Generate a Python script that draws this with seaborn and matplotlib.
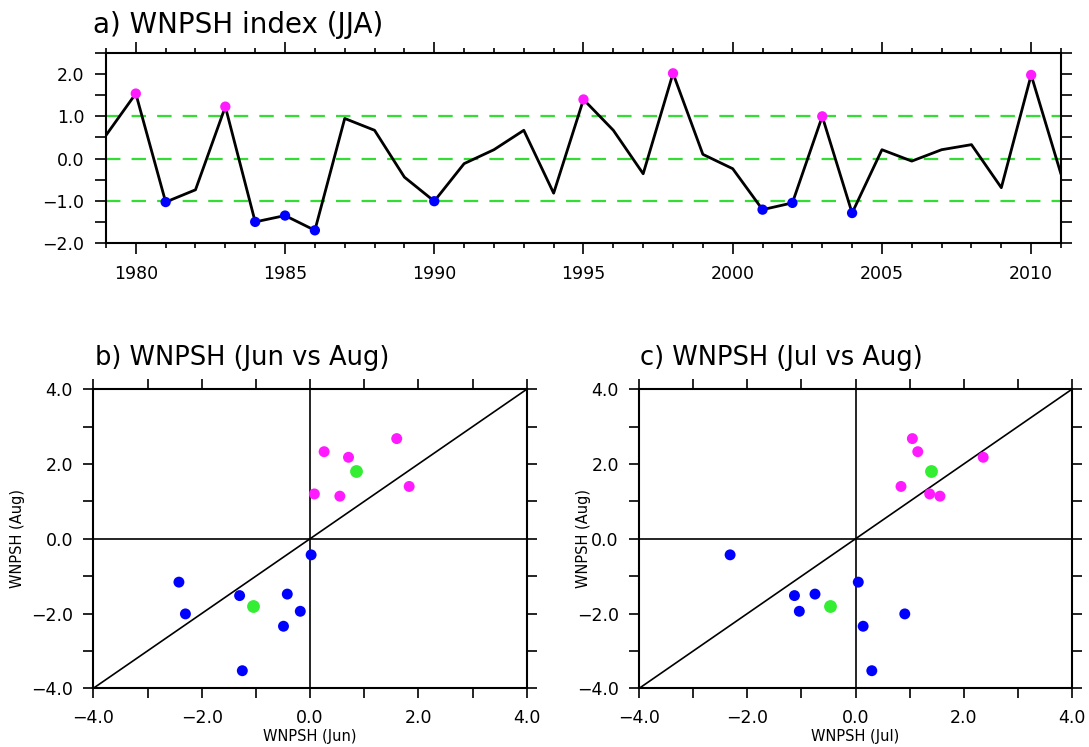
import numpy as np
import pandas as pd
import matplotlib
matplotlib.use("Agg")
import matplotlib.pyplot as plt
import seaborn as sns
from matplotlib.ticker import MultipleLocator, FuncFormatter

# ---------------- data ----------------
years = list(range(1979, 2012))
jja_index = [0.55, 1.54, -1.03, -0.74, 1.23, -1.50, -1.35, -1.70, 0.95, 0.67,
             -0.44, -1.01, -0.12, 0.21, 0.67, -0.82, 1.40, 0.67, -0.36, 2.02,
             0.10, -0.24, -1.21, -1.05, 1.00, -1.29, 0.21, -0.06, 0.21, 0.33,
             -0.69, 1.98, -0.37]
pos_years = [1980, 1983, 1995, 1998, 2003, 2010]
neg_years = [1981, 1984, 1985, 1986, 1990, 2001, 2002, 2004]

# strong (positive) years: Jun, Jul, Aug
pos_jun = [1.60, 0.26, 0.71, 0.08, 0.55, 1.83]
pos_jul = [1.05, 1.15, 2.36, 1.37, 1.56, 0.84]
pos_aug = [2.68, 2.33, 2.18, 1.20, 1.14, 1.40]
# weak (negative) years: Jun, Jul, Aug
neg_jun = [0.02, -2.42, -1.30, -0.42, -2.30, -0.18, -0.49, -1.25]
neg_jul = [-2.32, 0.05, -1.13, -0.75, 0.91, -1.04, 0.14, 0.30]
neg_aug = [-0.43, -1.16, -1.52, -1.48, -2.01, -1.94, -2.34, -3.53]
# composites (green)
comp_jun = [0.84, -1.05]
comp_jul = [1.39, -0.48]
comp_aug = [1.82, -1.80]

# ---------------- style ----------------
sns.set_theme(style="white")
plt.rcParams["font.family"] = ["DejaVu Sans"]
plt.rcParams["text.color"] = "black"
plt.rcParams["axes.labelcolor"] = "black"
plt.rcParams["xtick.color"] = "black"
plt.rcParams["ytick.color"] = "black"

MAG = "#ff1aff"
BLU = "#0000ff"
GRN = "#33ee33"
DASHGRN = "#33dd33"

fmt = FuncFormatter(lambda v, p: f"{v:.1f}".replace("-", "\u2212"))

fig = plt.figure(figsize=(10.89, 7.47), dpi=100)
ax_a = fig.add_axes([0.0973, 0.6747, 0.877, 0.2543])
ax_b = fig.add_axes([0.0857, 0.0786, 0.398, 0.4003])
ax_c = fig.add_axes([0.587, 0.0786, 0.3973, 0.4003])

# ---------------- panel a ----------------
df = pd.DataFrame({"year": years, "jja": jja_index})
for lvl in (-1.0, 0.0, 1.0):
    ax_a.axhline(lvl, color=DASHGRN, lw=1.6, linestyle=(0, (6.5, 5)), zorder=1)
sns.lineplot(data=df, x="year", y="jja", color="black", lw=2.0,
             estimator=None, ax=ax_a, zorder=2)
ev = df[df["year"].isin(pos_years + neg_years)].copy()
ev["kind"] = np.where(ev["year"].isin(pos_years), "pos", "neg")
sns.scatterplot(data=ev, x="year", y="jja", hue="kind",
                palette={"pos": MAG, "neg": BLU}, s=55, linewidth=0,
                legend=False, ax=ax_a, zorder=3)
ax_a.set_xlim(1979, 2011)
ax_a.set_ylim(-2.0, 2.5)
ax_a.xaxis.set_major_locator(MultipleLocator(5))
ax_a.xaxis.set_minor_locator(MultipleLocator(1))
ax_a.yaxis.set_major_locator(MultipleLocator(1))
ax_a.yaxis.set_minor_locator(MultipleLocator(0.5))
ax_a.yaxis.set_major_formatter(fmt)
ax_a.set_xlabel("")
ax_a.set_ylabel("")
ax_a.tick_params(axis="x", which="major", length=8.0)
ax_a.tick_params(axis="x", which="minor", length=3.6)
ax_a.tick_params(axis="y", which="both", length=8.0)

# ---------------- panels b, c ----------------
def scatter_panel(ax, xpos, xneg, xcomp, xlabel):
    ax.axhline(0, color="black", lw=1.2, zorder=1)
    ax.axvline(0, color="black", lw=1.2, zorder=1)
    ax.axline((0, 0), slope=1, color="black", lw=1.2, zorder=1)
    d = pd.DataFrame({
        "x": xpos + xneg + xcomp,
        "y": pos_aug + neg_aug + comp_aug,
        "k": ["pos"] * len(xpos) + ["neg"] * len(xneg) + ["comp"] * len(xcomp),
    })
    sns.scatterplot(data=d[d.k != "comp"], x="x", y="y", hue="k",
                    palette={"pos": MAG, "neg": BLU}, s=62, linewidth=0,
                    legend=False, ax=ax, zorder=3)
    sns.scatterplot(data=d[d.k == "comp"], x="x", y="y", color=GRN,
                    s=85, linewidth=0, legend=False, ax=ax, zorder=3)
    ax.set_xlim(-4, 4)
    ax.set_ylim(-4, 4)
    for axis in (ax.xaxis, ax.yaxis):
        axis.set_major_locator(MultipleLocator(2))
        axis.set_minor_locator(MultipleLocator(1))
        axis.set_major_formatter(fmt)
    ax.tick_params(which="both", length=7.2)
    ax.set_xlabel(xlabel, fontsize=10.5, color="black")
    ax.set_ylabel("WNPSH (Aug)", fontsize=10.5, color="black")
    ax.xaxis.set_label_coords(0.5, -0.135)

scatter_panel(ax_b, pos_jun, neg_jun, comp_jun, "WNPSH (Jun)")
scatter_panel(ax_c, pos_jul, neg_jul, comp_jul, "WNPSH (Jul)")
ax_b.yaxis.set_label_coords(-0.158, 0.5)
ax_c.yaxis.set_label_coords(-0.112, 0.5)

for ax in (ax_a, ax_b, ax_c):
    ax.tick_params(which="both", direction="out", top=True, right=True,
                   bottom=True, left=True, width=1.2, color="black",
                   labelsize=12.5, pad=7.5, labelcolor="black")
    for sp in ax.spines.values():
        sp.set_visible(True)
        sp.set_color("black")
        sp.set_linewidth(1.5)
    ax.set_facecolor("white")

# ---------------- titles ----------------
fig.text(0.0854, 0.9558, "a) WNPSH index (JJA)", fontsize=20, va="baseline",
         ha="left", color="black")
fig.text(0.0872, 0.5114, "b) WNPSH (Jun vs Aug)", fontsize=18.5, va="baseline",
         ha="left", color="black")
fig.text(0.5877, 0.5114, "c) WNPSH (Jul vs Aug)", fontsize=18.5, va="baseline",
         ha="left", color="black")

fig.savefig("out.png", dpi=100, facecolor="white")
